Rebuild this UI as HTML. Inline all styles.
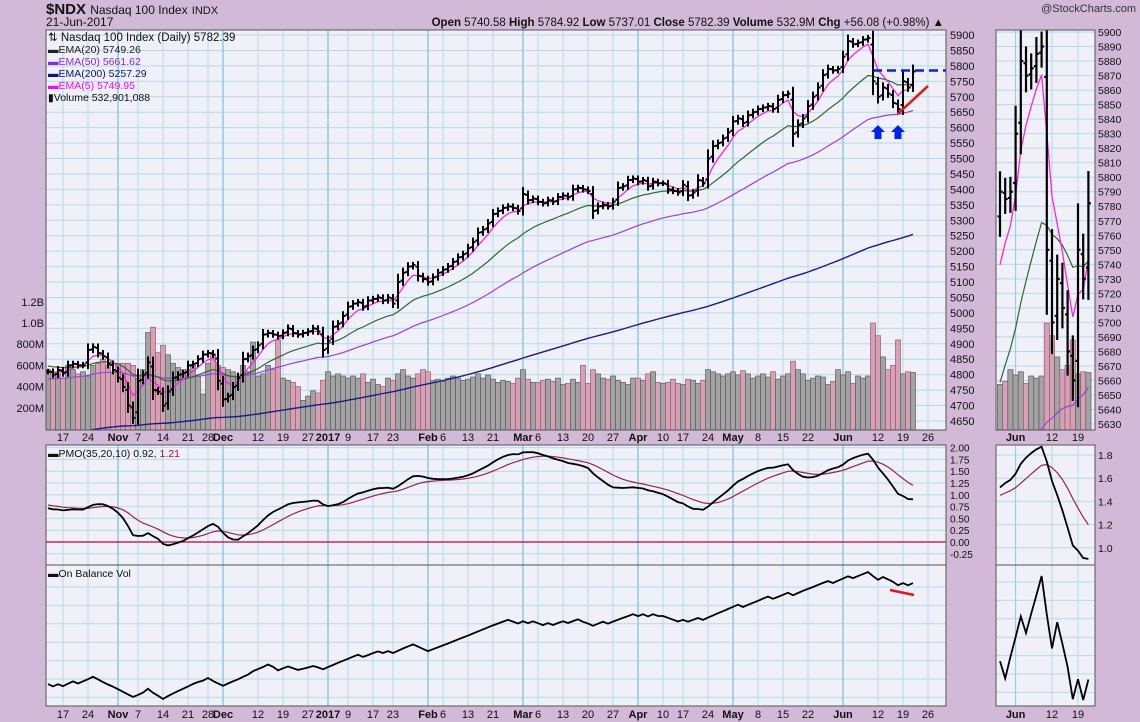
<!DOCTYPE html>
<html><head><meta charset="utf-8"><style>
html,body{margin:0;padding:0;width:1140px;height:722px;overflow:hidden;background:#d2b9d8;}
svg{display:block;font-family:"Liberation Sans",sans-serif;}
</style></head><body>
<svg id="c" width="1140" height="722" xmlns="http://www.w3.org/2000/svg">
<rect x="0" y="0" width="1140" height="722" fill="#d2b9d8"/>
<text x="46" y="14" font-size="15" font-weight="bold" fill="#111">$NDX <tspan font-weight="normal" font-size="12">Nasdaq 100 Index</tspan> <tspan font-weight="normal" font-size="11">INDX</tspan></text>
<text x="46" y="26" font-size="12" fill="#111">21-Jun-2017</text>
<text x="944" y="26" font-size="11.5" text-anchor="end" fill="#111"><tspan font-weight="bold">Open</tspan> 5740.58 <tspan font-weight="bold">High</tspan> 5784.92 <tspan font-weight="bold">Low</tspan> 5737.01 <tspan font-weight="bold">Close</tspan> 5782.39 <tspan font-weight="bold">Volume</tspan> 532.9M <tspan font-weight="bold">Chg</tspan> +56.08 (+0.98%) ▲</text>
<text x="1136" y="12" font-size="11" text-anchor="end" fill="#333">@StockCharts.com</text>
<g id="g"></g>
</svg>
<script>
const closes=[4810,4800,4815,
4805,4830,4835,4830,4832,
4880,4890,4870,4860,4835,
4815,
4790,4760,4700,4660,
4780,4800,4840,4750,4745,
4700,4745,4790,4800,4805,
4830,4835,4850,4865,
4870,4865,4780,
4720,4730,
4760,4790,4850,4860,4880,
4895,4930,4935,4930,4925,
4935,4950,4935,4930,4935,
4940,4950,4940,4880,
4910,4955,4965,4990,
5020,5030,5035,5020,5040,
5045,5050,5040,5050,
5030,5100,5130,5150,5155,
5120,5110,
5100,5115,5130,
5140,5150,5165,5180,5190,
5210,5230,5260,5270,5290,
5320,5330,5340,5345,
5340,5330,
5385,5365,5370,
5360,5355,5365,5360,5375,
5380,5375,5400,5405,5400,
5395,5330,5345,5350,5345,
5360,5405,5410,5430,5435,
5425,5430,5410,5425,5420,
5420,5400,5395,5390,
5415,5380,5390,5430,5420,
5500,5540,5550,5565,5585,
5620,5630,5615,5640,5650,
5660,5665,5670,5660,5690,
5705,5710,5580,5610,5630,
5670,5700,5730,5770,5790,
5785,5790,
5830,5880,
5870,5875,5885,5890,5750,
5700,5730,5710,5680,5660,
5750,5730,5782];
const volumes=[560,540,520,
480,600,560,520,540,
500,600,620,660,600,
520,
620,620,620,600,
480,560,910,960,720,
790,700,620,580,560,
560,600,500,330,
620,700,600,
580,560,
540,480,600,540,820,
500,520,600,560,840,
480,460,440,400,270,
310,360,340,460,
540,500,520,500,
480,500,480,520,440,
470,420,400,480,
460,520,560,500,480,
520,560,
540,460,470,
450,480,500,480,460,
470,490,520,480,510,
470,440,460,450,
430,480,
560,470,440,
440,460,470,450,480,
420,430,470,440,600,
430,560,520,480,470,
500,460,440,420,480,
480,460,520,540,440,
430,440,470,430,
420,470,460,430,460,
560,540,520,500,520,
540,510,550,520,480,
500,520,490,540,470,
500,520,640,560,520,
460,480,500,490,420,
450,560,
510,540,
430,500,480,500,1000,
880,680,560,600,840,
520,540,533];
const dateLabels=["17","24","Nov","7","14","21","28","Dec","12","19","27","2017","9","17","23","Feb","6","13","21","Mar","6","13","20","27","Apr","10","17","24","May","8","15","22","Jun","12","19","26"];
const dateIdx=[3,8,14,18,23,28,32,35,42,47,52,56,60,65,69,76,79,84,89,95,98,103,108,113,118,123,127,132,137,142,147,152,159,166,171,176];
const priceTicks=[5900,5850,5800,5750,5700,5650,5600,5550,5500,5450,5400,5350,5300,5250,5200,5150,5100,5050,5000,4950,4900,4850,4800,4750,4700,4650];
const volTicks=[1200,1000,800,600,400,200];
const volTickLabels=["1.2B","1.0B","800M","600M","400M","200M"];
const pmoTicks=[2,1.75,1.5,1.25,1,0.75,0.5,0.25,0,-0.25];
const sidePmoTicks=[1.8,1.6,1.4,1.2,1.0];

const NS="http://www.w3.org/2000/svg";
const G=document.getElementById('g');
function mk(tag,attrs,parent){const e=document.createElementNS(NS,tag);for(const k in attrs)e.setAttribute(k,attrs[k]);(parent||G).appendChild(e);return e;}
const X=i=>48+5*i;
const Y=p=>35+(5900-p)*0.3088;
const VY=v=>429-v*0.106;
const PY=v=>542-v*47.2;
const SX=i=>1000+5.2*(i-156);
const SY=p=>Math.min(431,32+(5900-p)*1.452);
const SPY=v=>455+(1.8-v)*116;
const N=closes.length;

function ema(arr,n,seed){const a=2/(n+1);let e=seed;return arr.map(v=>(e=e+(v-e)*a));}
const e5=ema(closes,5,closes[0]),e20=ema(closes,20,4830),e50=ema(closes,50,4785),e200=ema(closes,200,4600);
let s1=0.07,pm=0.72,sg=0.8;const pmo=[],sig=[];
closes.forEach((c,i)=>{const r=i?(c/closes[i-1]-1)*100:0;s1+=(r-s1)*2/35;pm+=(s1*10-pm)*2/20;sg+=(pm-sg)*2/11;pmo.push(pm);sig.push(sg);});
let ob=0;const obv=closes.map((c,i)=>{if(i){ob+=c>closes[i-1]?volumes[i]:c<closes[i-1]?-volumes[i]:0;}return ob;});

const panels=[[46,30,900,400,'price-panel'],[46,445,900,120,'pmo-panel'],[46,565,900,141,'obv-panel'],[996,30,99,400,'side-price-panel'],[996,445,99,120,'side-pmo-panel'],[996,565,99,141,'side-obv-panel']];
const defs=mk('defs',{});
panels.forEach((p,k)=>{const cp=mk('clipPath',{id:'cp'+k},defs);mk('rect',{x:p[0],y:p[1],width:p[2],height:p[3]},cp);
const r=mk('rect',{x:p[0],y:p[1],width:p[2],height:p[3],fill:'#eff0f8'});});

function hline(x1,x2,y,col,w,name){const l=mk('line',{x1:x1,x2:x2,y1:y,y2:y,stroke:col,'stroke-width':w});}
function vline(x,y1,y2,col,w,name){const l=mk('line',{x1:x,x2:x,y1:y1,y2:y2,stroke:col,'stroke-width':w});}
priceTicks.forEach(p=>{hline(46,946,Y(p),'#b3dbe8',1,'price-gridline');
const t=mk('text',{x:950,y:Y(p)+4,'font-size':11,fill:'#111'});t.textContent=p;});
volTicks.forEach((v,k)=>{const t=mk('text',{x:44,y:VY(v)+4,'font-size':11,fill:'#111','text-anchor':'end'});t.textContent=volTickLabels[k];});
pmoTicks.forEach(v=>{hline(46,946,PY(v),'#b3dbe8',1,'pmo-gridline');
const t=mk('text',{x:950,y:PY(v)+4,'font-size':10,fill:'#111'});t.textContent=v.toFixed(2);});
for(let k=0;k<7;k++){hline(46,946,587+k*18.4,'#b3dbe8',1,'obv-gridline');hline(996,1095,582+k*18.4,'#b3dbe8',1,'side-obv-gridline');}
dateLabels.forEach((lb,k)=>{const x=X(dateIdx[k]);const month=isNaN(+lb)||lb==="2017";
if(x<946){[[30,430],[445,565],[565,706]].forEach(r=>vline(x,r[0],r[1],month?'#8ecbe0':'#b3dbe8',month?1.5:1,'date-gridline'));}
[437,714].forEach(y=>{const t=mk('text',{x:x,y:y+4,'font-size':11,fill:'#111','text-anchor':'middle','font-weight':month?'bold':'normal'});t.textContent=lb;});});
for(let p=5630;p<=5900;p+=10){hline(996,1095,SY(p),'#b3dbe8',1,'side-price-gridline');
const t=mk('text',{x:1098,y:SY(p)+4,'font-size':10.5,fill:'#111'});t.textContent=p;}
sidePmoTicks.forEach(v=>{hline(996,1095,SPY(v),'#b3dbe8',1,'side-pmo-gridline');
const t=mk('text',{x:1098,y:SPY(v)+4,'font-size':10.5,fill:'#111'});t.textContent=v.toFixed(1);});
[["Jun",159],["12",166],["19",171]].forEach(d=>{const x=SX(d[1]);[[30,430],[445,565],[565,706]].forEach(r=>vline(x,r[0],r[1],d[0]==="Jun"?'#8ecbe0':'#b3dbe8',1,'side-date-gridline'));
[437,714].forEach(y=>{const t=mk('text',{x:x,y:y+4,'font-size':11,fill:'#111','text-anchor':'middle','font-weight':d[0]==="Jun"?'bold':'normal'});t.textContent=d[0];});});

const gv=mk('g',{'clip-path':'url(#cp0)'});
const gsv=mk('g',{'clip-path':'url(#cp3)'});
closes.forEach((c,i)=>{const down=i>0&&c<closes[i-1];const f=down?'#d4a2b4':'#a3a3a3',s=down?'#9a5a70':'#5d5d5d';
const b=mk('rect',{x:X(i)-2.5,y:VY(volumes[i]),width:5,height:429-VY(volumes[i])+1,fill:f,stroke:s,'stroke-width':0.7},gv);

if(i>=156){const b2=mk('rect',{x:SX(i)-2.6,y:VY(volumes[i]),width:5.2,height:429-VY(volumes[i])+1,fill:f,stroke:s,'stroke-width':0.7},gsv);
}});

function poly(arr,fx,fy,col,w,name,clip,from){const pts=[];arr.forEach((v,i)=>{if(i>=(from||0))pts.push(fx(i).toFixed(1)+','+fy(v).toFixed(1));});
const p=mk('polyline',{points:pts.join(' '),fill:'none',stroke:col,'stroke-width':w,'clip-path':'url(#cp'+clip+')'});}
poly(e200,X,Y,'#1a1a8c',1.4,'ema200-line',0);
poly(e50,X,Y,'#9b40e0',1.2,'ema50-line',0);
poly(e20,X,Y,'#2d6a2d',1.2,'ema20-line',0);
poly(e5,X,Y,'#ff20e0',1.3,'ema5-line',0);
poly(e50,SX,SY,'#9b40e0',1.2,'side-ema50-line',3,156);
poly(e20,SX,SY,'#2d6a2d',1.2,'side-ema20-line',3,156);
poly(e5,SX,SY,'#ff20e0',1.3,'side-ema5-line',3,156);

const gp=mk('g',{'clip-path':'url(#cp0)',stroke:'#000','stroke-width':2});
const gsp=mk('g',{'clip-path':'url(#cp3)',stroke:'#000','stroke-width':2.2});
closes.forEach((c,i)=>{const o=i?closes[i-1]+(c-closes[i-1])*0.15:c;const sp=Math.abs(c-o)*0.3+9;const h=Math.max(o,c)+sp,l=Math.min(o,c)-sp;
const g1=mk('g',{},gp);
mk('line',{x1:X(i),x2:X(i),y1:Y(h),y2:Y(l)},g1);mk('line',{x1:X(i)-2.5,x2:X(i),y1:Y(o),y2:Y(o)},g1);mk('line',{x1:X(i),x2:X(i)+2.5,y1:Y(c),y2:Y(c)},g1);
if(i>=156){const g2=mk('g',{},gsp);
mk('line',{x1:SX(i),x2:SX(i),y1:SY(h),y2:SY(l)},g2);mk('line',{x1:SX(i)-2.5,x2:SX(i),y1:SY(o),y2:SY(o)},g2);mk('line',{x1:SX(i),x2:SX(i)+2.5,y1:SY(c),y2:SY(c)},g2);}});

hline(46,946,PY(0),'#c0003c',1.3,'pmo-zero-line');
poly(sig,X,PY,'#a0204a',1.2,'pmo-signal-line',1);
poly(pmo,X,PY,'#000',1.8,'pmo-line',1);
poly(sig,SX,SPY,'#a0204a',1.2,'side-pmo-signal-line',4,156);
poly(pmo,SX,SPY,'#000',1.8,'side-pmo-line',4,156);
const omin=Math.min(...obv),omax=Math.max(...obv);
poly(obv,X,v=>699-(v-omin)/(omax-omin)*127,'#000',1.8,'obv-line',2);
const so=obv.slice(156),smin=Math.min(...so),smax=Math.max(...so);
poly(obv,SX,v=>700-(v-smin)/(smax-smin)*124,'#000',1.8,'side-obv-line',5,156);

const dl=mk('line',{x1:X(165),x2:946,y1:Y(5785),y2:Y(5785),stroke:'#0022ee','stroke-width':2.5,'stroke-dasharray':'9,5'});
const rl=mk('line',{x1:X(170),x2:X(176),y1:Y(5645),y2:Y(5735),stroke:'#ee1111','stroke-width':2.5});
const ol=mk('line',{x1:890,x2:914,y1:590,y2:595,stroke:'#ee1111','stroke-width':2.5});
[166,170].forEach(i=>{const x=X(i);const a=mk('polygon',{points:`${x},125 ${x+7},132 ${x+3.5},132 ${x+3.5},139 ${x-3.5},139 ${x-3.5},132 ${x-7},132`,fill:'#0022ee'});});

panels.forEach(p=>{const r=mk('rect',{x:p[0],y:p[1],width:p[2],height:p[3],fill:'none',stroke:'#555','stroke-width':1});});

const leg=[["⇅ Nasdaq 100 Index (Daily) 5782.39","#111",11.5,41],["▬EMA(20) 5749.26","#222",10.5,53],["▬EMA(50) 5661.62","#8a2be2",10.5,65],["▬EMA(200) 5257.29","#101080",10.5,77],["▬EMA(5) 5749.95","#ff00ff",10.5,89],["▮Volume 532,901,088","#111",10.5,101]];
leg.forEach(l=>{const t=mk('text',{x:48,y:l[3],'font-size':l[2],fill:l[1]});t.textContent=l[0];});
const pl=mk('text',{x:48,y:457,'font-size':10.5,fill:'#111'});pl.innerHTML='▬PMO(35,20,10) 0.92, <tspan fill="#cc0033">1.21</tspan>';
const ol2=mk('text',{x:48,y:577,'font-size':10.5,fill:'#111'});ol2.textContent='▬On Balance Vol';
</script>
</body></html>
